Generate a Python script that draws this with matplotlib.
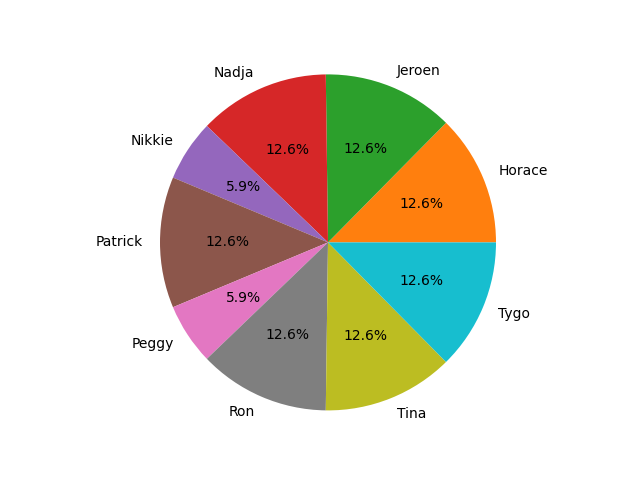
import matplotlib
matplotlib.use('Agg')
import matplotlib.pyplot as plt

# Pie data
names = ['Horace', 'Jeroen', 'Nadja', 'Nikkie', 'Patrick', 'Peggy', 'Ron', 'Tina', 'Tygo']
counts = [15, 15, 15, 7, 15, 7, 15, 15, 15]
colors = ['C1', 'C2', 'C3', 'C4', 'C5', 'C6', 'C7', 'C8', 'C9']

fig, ax = plt.subplots(figsize=(6.4, 4.8), dpi=100)
ax.pie(counts, labels=names, colors=colors, autopct='%1.1f%%')
ax.set_xlim(-1.1, 1.1)
ax.set_ylim(-1.1, 1.1)

fig.savefig('out.png')
